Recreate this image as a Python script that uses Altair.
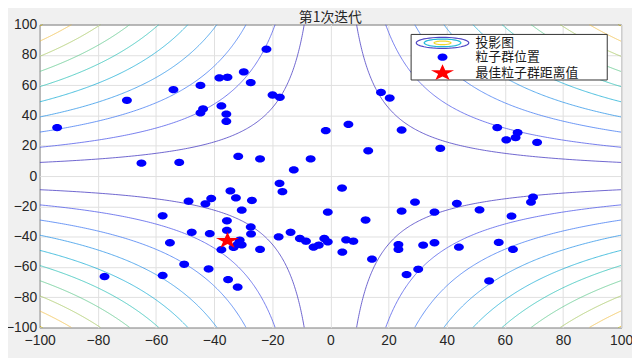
import altair as alt
import numpy as np
import pandas as pd

# ---------------- data ----------------
title_text = "第1次迭代"
legend_labels = ["投影图", "粒子群位置", "最佳粒子群距离值"]
x_ticks = [-100, -80, -60, -40, -20, 0, 20, 40, 60, 80, 100]
y_ticks = [-100, -80, -60, -40, -20, 0, 20, 40, 60, 80, 100]

# contour levels of |x*y| (read from the edge crossings) and their parula colours
contour_levels = [900, 1900, 2900, 3900, 4900, 5900, 6900, 7900, 8900, 9900]
contour_colors = ["#4e42c4", "#5660ea", "#4a80f2", "#3598e8", "#22b0d6",
                  "#30c2b8", "#62c98e", "#a8c862", "#f0c048", "#f2dc3c"]

particle_x = [-94, -70, -65, -54, -52, -44.7, -44.7, -43.8, -38.2, -35.4,
              -37.5, -35.8, -35.8, -31.7, -29.8, -27.4, -24.2, -22, -19.9, -17.4,
              -12.6, -6.8, -1.6, 6.2, 13, 17.4, 20.4, 24.5, 37.8, 57.4,
              60.5, 63.7, 64.4, 71.1,
              -17.5, -16.5, 4, -34.4, -32.5, -27, -48.8, -41, -43, -30.5,
              -57.7, -0.9, 12.1, -35.6, -27.4, -47.7, -41.5, -35.6, -27.3, -17.8,
              -13.7, -10.5, -8.4, -5.8, -4, -2.1, -0.9, 5.4, 7.9, 4.1,
              14.3, -55.2, -24.2, -37.5, -31.9, -30.5, -33.3, -31.2, -50.3, -41.9,
              -77.7, -57.7, -35.2, -31.9,
              24.5, 29.1, 35.8, 43.5, 51.3, 62.3, 69, 69.7, 23.4, 23.4,
              31.9, 35.8, 44.2, 57.9, 62.8, 26.2, 30.2, 54.6]
particle_y = [32, 50, 8.5, 57, 9, 59.8, 41.7, 44.3, 64.8, 65.2,
              46.3, 40.9, 36.1, 13, 68.7, 61.7, 11.3, 83.7, 53.5, 52,
              4.1, 11.3, 30, 34.1, 16.7, 55.2, 51.5, 30.4, 18.3, 32,
              23.9, 25.4, 28.7, 22.2,
              -4.8, -10.3, -7.9, -9.8, -14.4, -16.1, -16.6, -14.8, -18.3, -22.5,
              -26.2, -23.8, -29, -29.5, -33.6, -37.1, -38, -35.8, -38.2, -40.1,
              -37.1, -41.2, -43, -46.9, -45.6, -41.2, -43.4, -42.1, -43, -50.2,
              -54.8, -44, -48.4, -48.6, -45, -45.4, -47.1, -42.3, -58.2, -61.3,
              -66.3, -65.6, -68.3, -73.3,
              -23.1, -17.2, -23.8, -18.1, -22.3, -26.4, -17.2, -13.9, -45.2, -48.4,
              -45.6, -44, -46.9, -43.8, -48.4, -65, -61.5, -69.2]
best_x = [-35.4]
best_y = [-42.6]

# ---------------- tables built from the lists ----------------
rows = []
for k in contour_levels:
    for sx, sy in [(1, 1), (1, -1), (-1, 1), (-1, -1)]:
        t = np.geomspace(k / 100.0, 100.0, 160)
        for i, tt in enumerate(t):
            rows.append({"x": sx * tt, "y": sy * k / tt, "level": k,
                         "curve": f"{k}_{sx}_{sy}", "ord": i})
contour_df = pd.DataFrame(rows)
particles_df = pd.DataFrame({"x": particle_x, "y": particle_y})
best_df = pd.DataFrame({"x": best_x, "y": best_y})
one = pd.DataFrame({"a": [0]})


def ellipse_path(ry, n=48):
    a = np.linspace(0, 2 * np.pi, n, endpoint=False)
    pts = [f"{np.cos(v):.4f} {ry * np.sin(v):.4f}" for v in a]
    return "M " + " L ".join(pts) + " Z"


def star_path(yscale=0.72, inner=0.382):
    pts = []
    for i in range(10):
        r = 1.0 if i % 2 == 0 else inner
        ang = -np.pi / 2 + i * np.pi / 5
        pts.append(f"{r * np.cos(ang):.4f} {yscale * r * np.sin(ang):.4f}")
    return "M " + " L ".join(pts) + " Z"


dot_shape = ellipse_path(0.74)
star_shape = star_path()
icon_shape = ellipse_path(0.21)

W, H = 587, 306
xs = alt.Scale(domain=[-100, 100], nice=False, zero=False)
ys = alt.Scale(domain=[-100, 100], nice=False, zero=False)
label_font = "Liberation Sans"
cjk = "Noto Sans CJK SC"

x_axis = alt.Axis(values=x_ticks, grid=True, ticks=False, domain=False,
                  labelPadding=6, labelFontSize=14, labelFont=label_font,
                  labelColor="#262626", gridColor="#e0e0e0",
                  labelFlush=False, labelOverlap=False)
y_axis = alt.Axis(values=y_ticks, grid=True, ticks=False, domain=False,
                  labelPadding=3, labelFontSize=14, labelFont=label_font,
                  labelColor="#262626", gridColor="#e0e0e0",
                  labelFlush=False, labelOverlap=False)
x_enc = alt.X("x:Q", scale=xs, title=None, axis=x_axis)
y_enc = alt.Y("y:Q", scale=ys, title=None, axis=y_axis)

contours = alt.Chart(contour_df).mark_line(strokeWidth=0.9, clip=True, opacity=0.9).encode(
    x=x_enc, y=y_enc,
    color=alt.Color("level:O", scale=alt.Scale(domain=contour_levels, range=contour_colors),
                    legend=None),
    detail="curve:N",
    order="ord:Q",
)

dots = alt.Chart(particles_df).mark_point(
    shape=dot_shape, filled=True, color="#0000ff", size=100, opacity=1, strokeWidth=0
).encode(x=x_enc, y=y_enc)

star = alt.Chart(best_df).mark_point(
    shape=star_shape, filled=True, color="#ff0000", size=600, opacity=1, strokeWidth=0
).encode(x=x_enc, y=y_enc)

# ---------------- legend box (drawn by hand, MATLAB style) ----------------
lx, row_y = 406.7, [18.5, 33.0, 49.0]
box = alt.Chart(one).mark_rect(fill="white", stroke="#333333", strokeWidth=1).encode(
    x=alt.value(375), x2=alt.value(573), y=alt.value(10), y2=alt.value(56))
icons = []
for sz, col in [(2809, "#5046c4"), (1369, "#22b8d8"), (289, "#f0d830")]:
    icons.append(alt.Chart(one).mark_point(shape=icon_shape, filled=False, color=col,
                                           size=sz, strokeWidth=1.2, opacity=1).encode(
        x=alt.value(lx), y=alt.value(row_y[0])))
leg_dot = alt.Chart(one).mark_point(shape=dot_shape, filled=True, color="#0000ff",
                                    size=100, opacity=1, strokeWidth=0).encode(
    x=alt.value(lx), y=alt.value(row_y[1]))
leg_star = alt.Chart(one).mark_point(shape=star_shape, filled=True, color="#ff0000",
                                     size=600, opacity=1, strokeWidth=0).encode(
    x=alt.value(lx), y=alt.value(row_y[2]))
texts = []
for lab, yy in zip(legend_labels, row_y):
    texts.append(alt.Chart(one).mark_text(text=lab, align="left", baseline="middle",
                                          font=cjk, fontSize=13, color="#1a1a1a").encode(
        x=alt.value(440), y=alt.value(yy)))

title = alt.Chart(one).mark_text(text=title_text, align="center", baseline="middle",
                                 font=cjk, fontSize=14, color="#262626").encode(
    x=alt.value(W / 2), y=alt.value(-6.5))

chart = alt.layer(contours, dots, star, box, *icons, leg_dot, leg_star, *texts, title).properties(
    width=W, height=H,
    autosize=alt.AutoSizeParams(type="none"),
    padding={"left": 32, "top": 15, "right": 11, "bottom": 29},
    background="#f0f0f0",
).configure_view(fill="white", stroke="#262626", strokeWidth=1)

chart.save("out.html", embed_options={"renderer": "svg", "actions": False})
